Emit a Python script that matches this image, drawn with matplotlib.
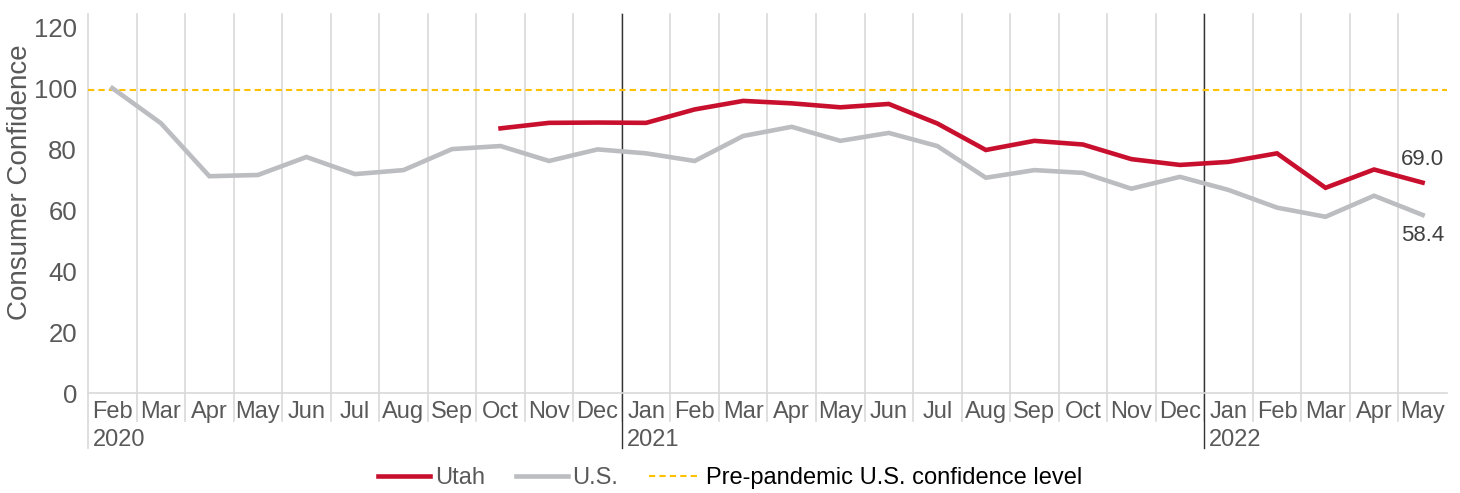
import matplotlib
matplotlib.use('Agg')
import matplotlib.pyplot as plt
import numpy as np

plt.rcParams['font.family'] = ['Liberation Sans Narrow', 'Liberation Sans', 'DejaVu Sans']

months = ['Feb', 'Mar', 'Apr', 'May', 'Jun', 'Jul', 'Aug', 'Sep', 'Oct', 'Nov', 'Dec',
          'Jan', 'Feb', 'Mar', 'Apr', 'May', 'Jun', 'Jul', 'Aug', 'Sep', 'Oct', 'Nov', 'Dec',
          'Jan', 'Feb', 'Mar', 'Apr', 'May']
years = ['2020', '2021', '2022']
year_start = [0, 11, 23]  # index of first month of each year on the axis

us = [100.0, 88.5, 71.1, 71.5, 77.4, 71.8, 73.1, 80.0, 81.0, 76.1, 79.9,
      78.6, 76.1, 84.3, 87.3, 82.7, 85.3, 81.0, 70.6, 73.1, 72.2, 67.0, 70.9,
      66.6, 60.8, 57.8, 64.7, 58.4]
utah = [None] * 8 + [86.8, 88.6, 88.7,
                     88.6, 93.0, 95.8, 95.0, 93.7, 94.8, 88.4, 79.7, 82.7, 81.5, 76.7, 74.8,
                     75.8, 78.6, 67.3, 73.3, 69.0]
pre_pandemic = 99.3

red = '#C8102E'
gray = '#BCBDC1'
gold = '#FFC000'
grid = '#D9D9D9'
txt = '#595959'

x = np.arange(len(months))
utah_arr = np.array([np.nan if v is None else v for v in utah])

fig = plt.figure(figsize=(14.6, 4.93), dpi=100)
ax = fig.add_axes([0.0603, 0.2028, 0.9307, 0.7688])

# category boundaries (light grid), extended below axis
for b in np.arange(-0.5, len(months) - 0.5, 1.0):
    ax.plot([b, b], [-0.075, 1], transform=ax.get_xaxis_transform(),
            color=grid, lw=1.2, clip_on=False, zorder=0)

# year separators
for i, yr in zip(year_start, years):
    b = i - 0.5
    if i > 0:
        ax.plot([b, b], [-0.145, 1], transform=ax.get_xaxis_transform(),
                color='#333333', lw=1.0, clip_on=False, zorder=1)
    else:
        ax.plot([b, b], [-0.145, -0.075], transform=ax.get_xaxis_transform(),
                color=grid, lw=1.2, clip_on=False, zorder=1)
    ax.text(b + 0.1, -0.123, yr, transform=ax.get_xaxis_transform(),
            ha='left', va='center', fontsize=17, color=txt)

ax.axhline(pre_pandemic, color=gold, lw=1.5, ls=(0, (3, 2)), zorder=2,
           label='Pre-pandemic U.S. confidence level')
ax.plot(x, us, color=gray, lw=3.3, solid_joinstyle='miter', zorder=3, label='U.S.')
ax.plot(x, utah_arr, color=red, lw=3.3, solid_joinstyle='miter', zorder=4, label='Utah')

ax.annotate(f'{utah[-1]:.1f}', (x[-1], utah[-1]), xytext=(0, 9), textcoords='offset points',
            ha='center', va='bottom', fontsize=16, color='#404040')
ax.annotate(f'{us[-1]:.1f}', (x[-1], us[-1]), xytext=(0, -7), textcoords='offset points',
            ha='center', va='top', fontsize=16, color='#404040')

ax.set_xlim(-0.5, len(months) - 0.5)
ax.set_ylim(0, 124.3)
ax.set_yticks([0, 20, 40, 60, 80, 100, 120])
ax.set_xticks(x)
ax.set_xticklabels(months)
ax.tick_params(axis='x', length=0, pad=6, labelsize=17, labelcolor=txt)
ax.tick_params(axis='y', length=0, pad=8, labelsize=18.5, labelcolor=txt)
ax.set_ylabel('Consumer Confidence', fontsize=20, color=txt,
              family=['Liberation Sans', 'DejaVu Sans'])
ax.yaxis.set_label_coords(-0.0405, 0.557)

for s in ['top', 'right', 'left']:
    ax.spines[s].set_visible(False)
ax.spines['bottom'].set_color(grid)
ax.spines['bottom'].set_linewidth(1.2)

h, l = ax.get_legend_handles_labels()
order = [2, 1, 0]
leg = fig.legend([h[i] for i in order], [l[i] for i in order], loc='lower center',
                 bbox_to_anchor=(0.5, -0.035), ncol=3, frameon=False, fontsize=17,
                 handlelength=2.2, handletextpad=0.2, columnspacing=1.3)
for t, c in zip(leg.get_texts(), [txt, txt, 'black']):
    t.set_color(c)

fig.savefig('out.png', dpi=100)
